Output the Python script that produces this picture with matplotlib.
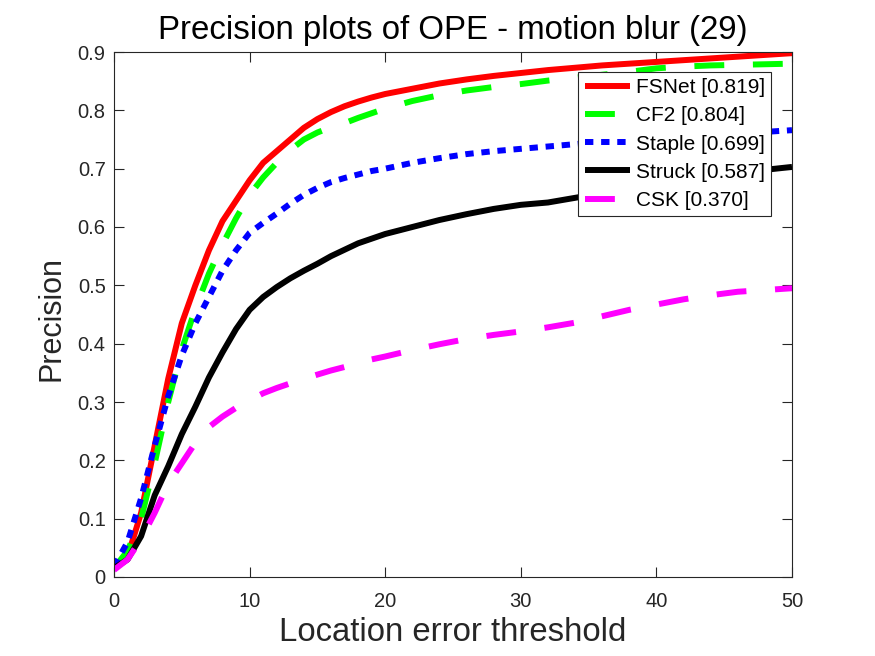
import numpy as np
from matplotlib import pyplot as plt
from matplotlib import rcParams

# location error thresholds (pixels) at which the curves were read
thresholds = [0, 1, 2, 3, 4, 5, 6, 7, 8, 9, 10, 11, 12, 13, 14, 15, 16, 17, 18, 19, 20,
              22, 24, 26, 28, 30, 32, 34, 36, 38, 40, 42, 44, 46, 48, 50]

fsnet = [0.015, 0.035, 0.11, 0.225, 0.34, 0.435, 0.50, 0.56, 0.61, 0.645, 0.68, 0.71, 0.73,
         0.75, 0.77, 0.785, 0.797, 0.807, 0.815, 0.822, 0.828,
         0.837, 0.846, 0.853, 0.859, 0.864, 0.869, 0.873, 0.877, 0.880, 0.883,
         0.886, 0.889, 0.892, 0.895, 0.898]
cf2 = [0.015, 0.045, 0.10, 0.195, 0.30, 0.39, 0.46, 0.52, 0.57, 0.615, 0.655, 0.685, 0.71,
       0.732, 0.75, 0.762, 0.771, 0.778, 0.787, 0.795, 0.803,
       0.816, 0.826, 0.834, 0.840, 0.845, 0.851, 0.856, 0.861, 0.866, 0.872,
       0.875, 0.877, 0.878, 0.879, 0.880]
staple = [0.018, 0.06, 0.135, 0.225, 0.31, 0.38, 0.435, 0.48, 0.525, 0.56, 0.59, 0.607, 0.623,
          0.64, 0.655, 0.667, 0.677, 0.684, 0.69, 0.696, 0.70,
          0.71, 0.718, 0.725, 0.73, 0.734, 0.738, 0.742, 0.746, 0.749, 0.752,
          0.755, 0.757, 0.76, 0.763, 0.766]
struck = [0.015, 0.03, 0.07, 0.14, 0.19, 0.245, 0.292, 0.342, 0.385, 0.425, 0.458, 0.48, 0.497,
          0.512, 0.525, 0.537, 0.55, 0.561, 0.572, 0.58, 0.588,
          0.60, 0.612, 0.622, 0.631, 0.638, 0.642, 0.65, 0.658, 0.666, 0.673,
          0.68, 0.686, 0.692, 0.698, 0.703]
csk = [0.012, 0.03, 0.065, 0.11, 0.16, 0.195, 0.23, 0.257, 0.275, 0.29, 0.303, 0.315, 0.324,
       0.332, 0.34, 0.347, 0.354, 0.36, 0.367, 0.373, 0.378,
       0.389, 0.399, 0.408, 0.415, 0.421, 0.428, 0.436, 0.447, 0.458, 0.467,
       0.476, 0.483, 0.489, 0.492, 0.495]

labels = ['FSNet [0.819]', 'CF2 [0.804]', 'Staple [0.699]', 'Struck [0.587]', 'CSK [0.370]']
xticks = [0, 10, 20, 30, 40, 50]
yticks = [0, 0.1, 0.2, 0.3, 0.4, 0.5, 0.6, 0.7, 0.8, 0.9]


def main():
    rcParams['font.family'] = ['Liberation Sans', 'DejaVu Sans']
    axcol = '#262626'

    fig = plt.figure(figsize=(8.75, 6.56), dpi=100)
    ax = fig.add_axes([114 / 875, 1 - 577 / 656, 678 / 875, 525 / 656])

    lw = 4.3
    series = [
        (fsnet, dict(color='#ff0000', linestyle='-')),
        (cf2, dict(color='#00ff00', linestyle=(0, (5, 4.8)))),
        (staple, dict(color='#0000ff', linestyle=(0, (1.4, 1.3)))),
        (struck, dict(color='#000000', linestyle='-')),
        (csk, dict(color='#ff00ff', linestyle=(0, (5, 4.8)))),
    ]
    for (vals, style), lab in zip(series, labels):
        ax.plot(thresholds, vals, linewidth=lw, label=lab,
                solid_capstyle='butt', dash_capstyle='butt', **style)

    ax.set_xlim(0, 50)
    ax.set_ylim(0, 0.9)
    ax.set_xticks(xticks)
    ax.set_yticks(yticks)
    ax.set_yticklabels(['0'] + ['%.1f' % v for v in yticks[1:]])
    ax.tick_params(direction='in', length=7, width=0.8, top=True, right=True,
                   labelsize=14.5, colors=axcol)
    ax.tick_params(axis='x', pad=11)
    ax.tick_params(axis='y', pad=6)
    for sp in ax.spines.values():
        sp.set_color(axcol)
        sp.set_linewidth(0.8)

    ax.set_title('Precision plots of OPE - motion blur (29)', fontsize=23.8, color='black', pad=9)
    ax.set_xlabel('Location error threshold', fontsize=23.7, color=axcol, labelpad=4)
    ax.set_ylabel('Precision', fontsize=22, color=axcol)
    ax.yaxis.set_label_coords(-0.0705, 0.492)

    leg = ax.legend(loc='upper right', bbox_to_anchor=(0.969, 0.962), borderaxespad=0,
                    fontsize=15, handlelength=2.2, handletextpad=0.25, labelspacing=0.44,
                    borderpad=0.3, fancybox=False, framealpha=1, edgecolor=axcol)
    leg.get_frame().set_linewidth(0.8)

    fig.savefig('out.png', dpi=100)


if __name__ == '__main__':
    main()
